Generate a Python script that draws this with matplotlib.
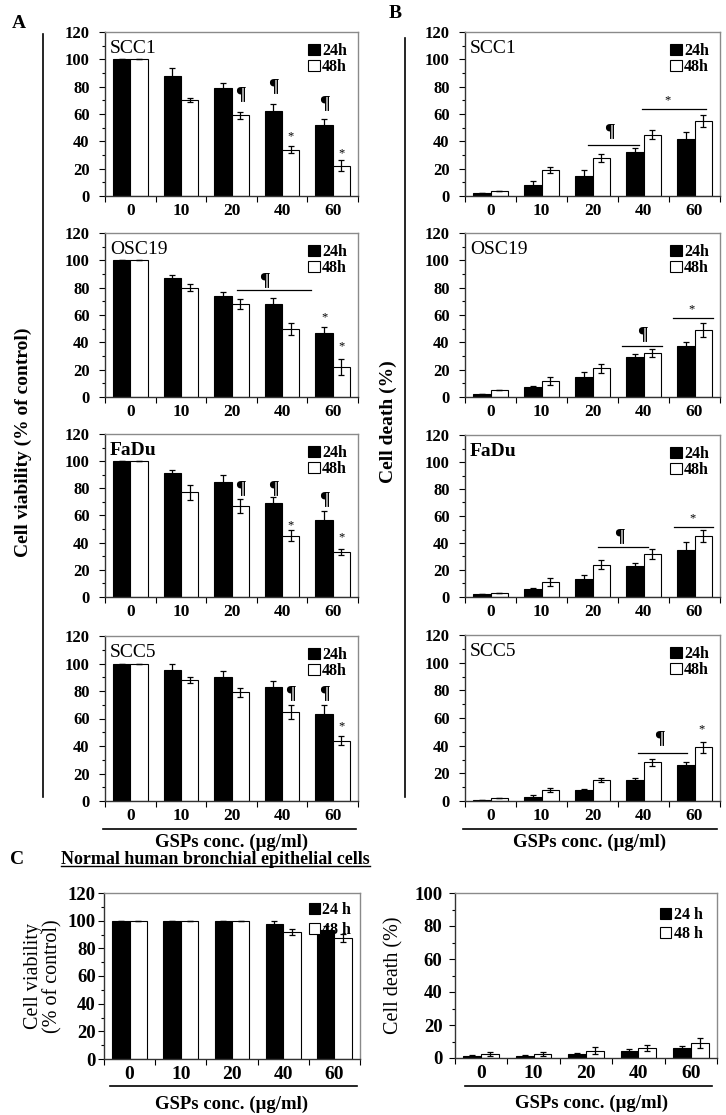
import numpy as np
import matplotlib
matplotlib.use('Agg')
import matplotlib.pyplot as plt
from matplotlib.lines import Line2D
from matplotlib.ticker import MultipleLocator

plt.rcParams['font.family'] = 'Liberation Serif'
plt.rcParams['font.weight'] = 'bold'

W, H = 726, 1115

conc = ['0', '10', '20', '40', '60']

# A: cell viability (% of control)
scc1_via_24 = [100, 88, 79, 62, 52]
scc1_via_24_err = [0, 6, 4, 5, 4]
scc1_via_48 = [100, 70, 59, 34, 22]
scc1_via_48_err = [0, 1.5, 2.5, 2.5, 4]

osc19_via_24 = [100, 87, 74, 68, 47]
osc19_via_24_err = [0, 2.5, 3, 4.5, 4.5]
osc19_via_48 = [100, 80, 68, 50, 22]
osc19_via_48_err = [0, 2.5, 3.5, 4.5, 6]

fadu_via_24 = [100, 91, 85, 69, 57]
fadu_via_24_err = [0, 2.5, 5, 4.5, 6.5]
fadu_via_48 = [100, 77, 67, 45, 33]
fadu_via_48_err = [0, 5.5, 5, 4, 2]

scc5_via_24 = [100, 95, 90, 83, 63]
scc5_via_24_err = [0, 4.5, 4.5, 4, 7]
scc5_via_48 = [100, 88, 79, 65, 44]
scc5_via_48_err = [0, 2, 3, 5, 3.5]

# B: cell death (%)
scc1_death_24 = [2, 8, 15, 32, 42]
scc1_death_24_err = [0, 3, 4, 3, 4.5]
scc1_death_48 = [3.5, 19, 28, 45, 55]
scc1_death_48_err = [0, 2, 3, 3, 4.5]

osc19_death_24 = [2, 7, 15, 29, 37]
osc19_death_24_err = [0, 1, 3, 2.5, 3]
osc19_death_48 = [5, 12, 21, 32, 49]
osc19_death_48_err = [0, 3, 3.5, 3, 5]

fadu_death_24 = [2, 6, 13, 23, 35]
fadu_death_24_err = [0, 1, 3, 2, 6]
fadu_death_48 = [3, 11, 24, 32, 45]
fadu_death_48_err = [0, 3, 3.5, 3.5, 4.5]

scc5_death_24 = [1, 3, 8, 15, 26]
scc5_death_24_err = [0, 1, 1, 1.5, 2.5]
scc5_death_48 = [2.5, 8, 15, 28, 39]
scc5_death_48_err = [0, 1.5, 1.5, 2.5, 4]

# C: normal human bronchial epithelial cells
nhbe_via_24 = [100, 100, 100, 97.5, 93.5]
nhbe_via_24_err = [0, 0, 0, 2, 2.5]
nhbe_via_48 = [99.5, 99.5, 99.5, 92, 87.5]
nhbe_via_48_err = [0, 0, 0, 2, 3]

nhbe_death_24 = [1.5, 1.5, 2.5, 4, 6]
nhbe_death_24_err = [0.5, 0.5, 0.5, 1.5, 1.5]
nhbe_death_48 = [2.5, 2.5, 4.5, 6, 9]
nhbe_death_48_err = [1, 1, 2, 2, 3]

fig = plt.figure(figsize=(W / 100, H / 100), dpi=100)
BW = 0.34


def add_ax(l, t, r, b):
    return fig.add_axes([l / W, 1 - b / H, (r - l) / W, (b - t) / H])


def bar_panel(ax, v24, e24, v48, e48, ymax, labels=('24h', '48h'),
              yfs=12, xfs=12.5, ypad=7, lfs=11.5, lsp=0.0, lpad=0.3):
    x = np.arange(len(conc))
    ekw = dict(elinewidth=0.9, capthick=0.9, ecolor='black')
    b1 = ax.bar(x - BW / 2, v24, BW, color='black', edgecolor='black', lw=0.8,
                yerr=e24, capsize=2.5, error_kw=ekw)
    b2 = ax.bar(x + BW / 2, v48, BW, color='white', edgecolor='black', lw=0.8,
                yerr=e48, capsize=2.5, error_kw=ekw)
    ax.set_xlim(-0.5, len(conc) - 0.5)
    ax.set_ylim(0, ymax)
    ax.yaxis.set_major_locator(MultipleLocator(20))
    ax.yaxis.set_minor_locator(MultipleLocator(10))
    ax.set_xticks(x)
    ax.set_xticklabels(conc, fontsize=xfs)
    ax.set_xticks(np.arange(len(conc) + 1) - 0.5, minor=True)
    ax.tick_params(axis='x', which='major', length=0, pad=5)
    ax.tick_params(axis='x', which='minor', length=4, width=0.8, direction='out')
    ax.tick_params(axis='y', which='major', length=4, width=0.8, labelsize=yfs, pad=ypad)
    ax.tick_params(axis='y', which='minor', length=2.5, width=0.8)
    for s in ['top', 'right']:
        ax.spines[s].set_color('#8a8a8a')
    for s in ['left', 'bottom']:
        ax.spines[s].set_color('#333333')
    for s in ax.spines.values():
        s.set_linewidth(1.0)
    ax.legend([b1, b2], labels, loc='upper right', frameon=False,
              fontsize=lfs, handlelength=0.7, handleheight=0.7,
              handletextpad=0.15, labelspacing=lsp, borderaxespad=lpad)
    return ax


def marks(ax, paras=(), stars=(), lines=()):
    for xx, yy in paras:
        ax.text(xx, yy, '\u00b6', ha='center', va='center', fontsize=14)
    for xx, yy in stars:
        ax.text(xx, yy, '*', ha='center', va='center', fontsize=9,
                fontweight='normal')
    for x0, x1, yy in lines:
        ax.plot([x0, x1], [yy, yy], color='black', lw=0.9)


def name(ax, txt, bold=False):
    ax.text(0.02, 0.9, txt, transform=ax.transAxes, fontsize=14,
            fontweight='bold' if bold else 'normal', va='center')


off = BW / 2

# ---- column A ----
rows = [(32, 196), (233, 397), (434, 597), (636, 801)]
a_data = [
    ('SCC1', False, scc1_via_24, scc1_via_24_err, scc1_via_48, scc1_via_48_err,
     [(2 + off, 74), (3 - off, 80), (4 - off, 68)], [(3 + off, 44), (4 + off, 31)], []),
    ('OSC19', False, osc19_via_24, osc19_via_24_err, osc19_via_48, osc19_via_48_err,
     [(2.64, 85)], [(4 - off, 58), (4 + off, 37)], [(2.1, 3.58, 78)]),
    ('FaDu', True, fadu_via_24, fadu_via_24_err, fadu_via_48, fadu_via_48_err,
     [(2 + off, 80), (3 - off, 80), (4 - off, 72)], [(3 + off, 53), (4 + off, 44)], []),
    ('SCC5', False, scc5_via_24, scc5_via_24_err, scc5_via_48, scc5_via_48_err,
     [(3 + off, 78), (4 - off, 78)], [(4 + off, 54)], []),
]
for (t, b), (nm, bold, v24, e24, v48, e48, pp, ss, ll) in zip(rows, a_data):
    ax = add_ax(105, t, 358, b)
    bar_panel(ax, v24, e24, v48, e48, 120)
    name(ax, nm, bold)
    marks(ax, pp, ss, ll)

# ---- column B ----
rows_b = [(32, 196), (233, 397), (435, 597), (635, 801)]
b_data = [
    ('SCC1', False, scc1_death_24, scc1_death_24_err, scc1_death_48, scc1_death_48_err,
     [(2.34, 47)], [(3.48, 70)], [(1.91, 2.91, 37), (2.97, 4.23, 64)]),
    ('OSC19', False, osc19_death_24, osc19_death_24_err, osc19_death_48, osc19_death_48_err,
     [(2.97, 46)], [(3.95, 64)], [(2.58, 3.36, 37), (3.58, 4.36, 58)]),
    ('FaDu', True, fadu_death_24, fadu_death_24_err, fadu_death_48, fadu_death_48_err,
     [(2.52, 45)], [(3.97, 58)], [(2.11, 3.09, 37), (3.6, 4.36, 52)]),
    ('SCC5', False, scc5_death_24, scc5_death_24_err, scc5_death_48, scc5_death_48_err,
     [(3.32, 45)], [(4.13, 52)], [(2.89, 3.85, 35)]),
]
for (t, b), (nm, bold, v24, e24, v48, e48, pp, ss, ll) in zip(rows_b, b_data):
    ax = add_ax(465, t, 720, b)
    bar_panel(ax, v24, e24, v48, e48, 120)
    name(ax, nm, bold)
    marks(ax, pp, ss, ll)

# ---- panel C ----
axc1 = add_ax(104, 893, 360, 1059)
bar_panel(axc1, nhbe_via_24, nhbe_via_24_err, nhbe_via_48, nhbe_via_48_err, 120,
          labels=('24 h', '48 h'), yfs=13.5, xfs=14, ypad=2, lfs=11.5,
          lsp=0.25, lpad=0.15)
axc1.set_ylabel('Cell viability\n(% of control)', fontsize=14.5, labelpad=4,
                linespacing=1.0)

axc2 = add_ax(455, 893, 717, 1058)
bar_panel(axc2, nhbe_death_24, nhbe_death_24_err, nhbe_death_48, nhbe_death_48_err, 100,
          labels=('24 h', '48 h'), yfs=13.5, xfs=14, ypad=5, lfs=11.5,
          lsp=0.15, lpad=0.5)
axc2.set_ylabel('Cell death (%)', fontsize=14.5, labelpad=8)


# ---- figure-level decorations ----
def fline(x0, y0, x1, y1, lw=1.2):
    fig.add_artist(Line2D([x0 / W, x1 / W], [1 - y0 / H, 1 - y1 / H],
                          color='black', lw=lw))


def ftext(x, y, s, **kw):
    return fig.text(x / W, 1 - y / H, s, **kw)


# side brackets
fline(43, 34, 43, 797)
fline(405, 38, 405, 797)
ftext(23, 442, 'Cell viability (% of control)', rotation=90, ha='center',
      va='center', fontsize=14)
ftext(388, 422, 'Cell death (%)', rotation=90, ha='center', va='center',
      fontsize=14)

# x-axis titles
fline(103, 829, 356, 829)
ftext(232, 842, 'GSPs conc. (\u00b5g/ml)', ha='center', va='center', fontsize=13.5)
fline(463, 829, 717, 829)
ftext(590, 842, 'GSPs conc. (\u00b5g/ml)', ha='center', va='center', fontsize=13.5)
fline(110, 1086, 357, 1086)
ftext(232, 1104, 'GSPs conc. (\u00b5g/ml)', ha='center', va='center', fontsize=13.5)
fline(465, 1086, 712, 1086)
ftext(592, 1103, 'GSPs conc. (\u00b5g/ml)', ha='center', va='center', fontsize=13.5)

# panel letters
ftext(19, 23, 'A', ha='center', va='center', fontsize=14)
ftext(395, 14, 'B', ha='center', va='center', fontsize=14)
ftext(17, 860, 'C', ha='center', va='center', fontsize=14)

ttl = ftext(61, 859, 'Normal human bronchial epithelial cells', ha='left',
            va='center', fontsize=13)
fig.canvas.draw()
bb = ttl.get_window_extent()
fig.add_artist(Line2D([bb.x0 / W, bb.x1 / W], [(bb.y0 + 1.5) / H, (bb.y0 + 1.5) / H],
                      color='black', lw=1.0))

fig.savefig('out.png', dpi=100)
